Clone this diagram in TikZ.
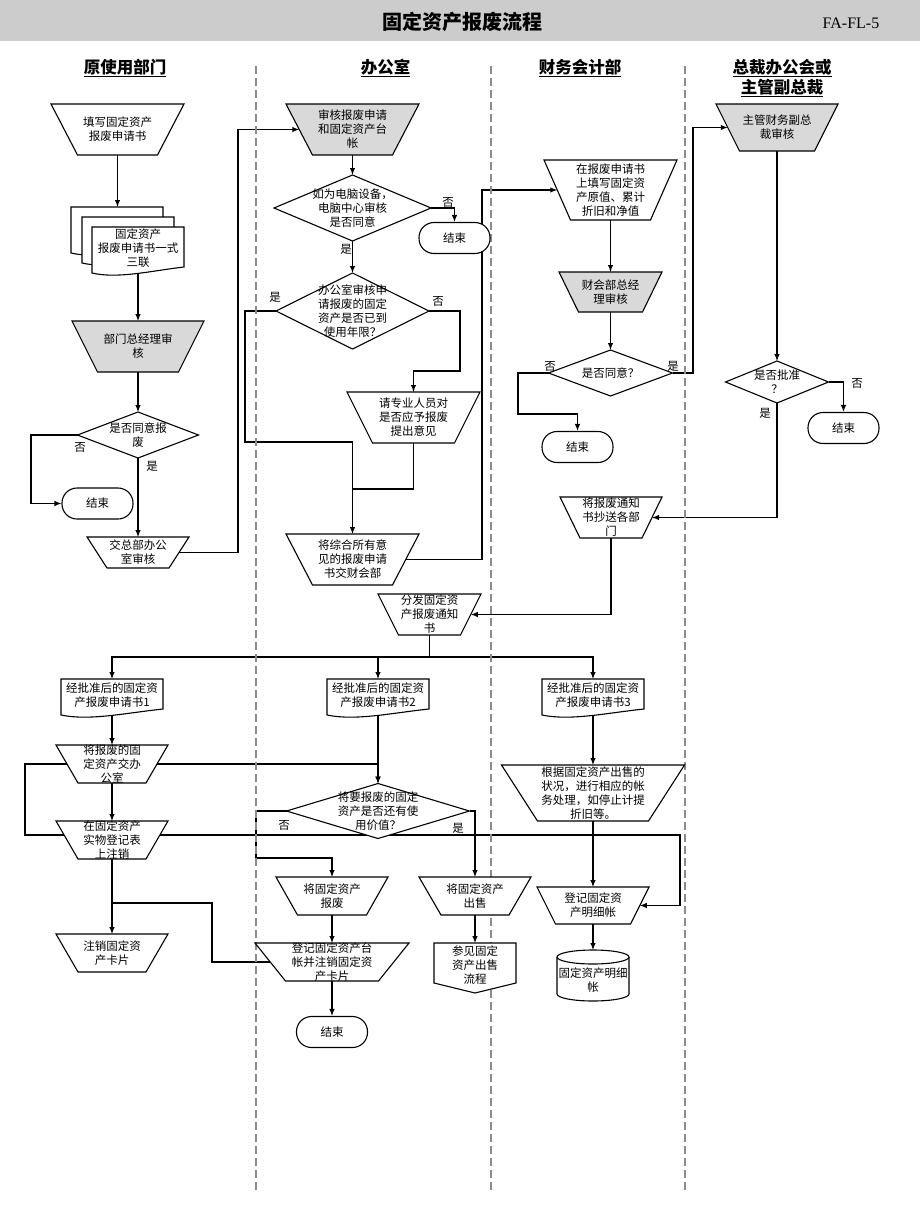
\documentclass[tikz,border=0pt]{standalone}
\usepackage{fontspec}
\setmainfont{Noto Sans CJK SC}
\newfontfamily\cjk{Noto Sans CJK SC}
\newfontfamily\codef{Liberation Serif}
\usetikzlibrary{arrows.meta,backgrounds}

\tikzset{
 shp/.style={draw=black, line width=1.1pt, fill=white},
 gshp/.style={draw=black, line width=1.1pt, fill=black!15},
 box/.style={rectangle, inner sep=0pt, outer sep=0pt, draw=none},
 txt/.style={inner sep=0pt, align=center, font=\cjk\fontsize{11.5}{14}\selectfont},
 endn/.style={draw, line width=1.1pt, fill=white, rounded corners=15pt, minimum width=71pt, minimum height=31pt, inner sep=0pt, font=\cjk\fontsize{11.5}{14}\selectfont},
 conn/.style={line width=1.1pt},
 arr/.style={conn, -{Latex[length=7pt,width=5.5pt]}},
 lbl/.style={inner sep=0pt, font=\cjk\fontsize{11.5}{14}\selectfont},
 lane/.style={draw=black!45, line width=1.2pt, dash pattern=on 8pt off 4pt},
 hdr/.style={inner sep=0pt, align=center, font=\cjk\bfseries\fontsize{16.5}{20}\selectfont},
}

% name, cx, top y, bottom y, top half width, bottom half width, style, text
\newcommand\mytrap[8]{%
  \path[#7] ({#2-#5},#3) -- ({#2+#5},#3) -- ({#2+#6},#4) -- ({#2-#6},#4) -- cycle;
  \node[box, minimum width={2*#5}, minimum height={#4-#3}] (#1) at (#2,{(#3+#4)/2}) {};
  \node[txt] (#1-t) at (#1.center) {#8};
  \coordinate (#1-r) at ({#2+(#5+#6)/2},{(#3+#4)/2});
  \coordinate (#1-l) at ({#2-(#5+#6)/2},{(#3+#4)/2});
}
% name, cx, cy, half width, half height, text
\newcommand\mydiam[6]{%
  \path[shp] ({#2-#4},#3) -- (#2,{#3-#5}) -- ({#2+#4},#3) -- (#2,{#3+#5}) -- cycle;
  \node[box, minimum width={2*#4}, minimum height={2*#5}] (#1) at (#2,#3) {};
  \node[txt] (#1-t) at (#1.center) {#6};
}
% name, left, top, right, height, text
\newcommand\mydoc[6]{%
  \path[shp] (#2,#3) -- (#4,#3) -- (#4,{#3+#5-6}) .. controls ({#4-0.37*(#4-#2)},{#3+#5-2}) and ({#2+0.28*(#4-#2)},{#3+#5+6}) .. (#2,{#3+#5}) -- cycle;
  \node[box, minimum width={#4-#2}, minimum height={#5}] (#1) at ({(#2+#4)/2},{#3+#5/2}) {};
  \node[txt] (#1-t) at ([yshift=1.5pt]#1.center) {#6};
}

\begin{document}
\begin{tikzpicture}[x=1pt,y=-1pt]
\useasboundingbox (0,0) rectangle (920,1227);

% header band
\fill[black!20] (0,0) rectangle (920,41);
\node[inner sep=0pt, font=\cjk\bfseries\fontsize{20}{24}\selectfont] (title) at (462,22) {固定资产报废流程};
\node[inner sep=0pt, font=\codef\fontsize{16}{18}\selectfont] (code) at (851,23) {FA-FL-5};

% lanes
\draw[lane] (256,66) -- (256,1193);
\draw[lane] (491,66) -- (491,1193);
\draw[lane] (685,66) -- (685,1193);

\node[hdr] (h1) at (125,68) {\underline{原使用部门}};
\node[hdr] (h2) at (385.5,68) {\underline{办公室}};
\node[hdr] (h3) at (580,68) {\underline{财务会计部}};
\node[hdr] (h4) at (782,78) {\underline{总裁办公会或}\\\underline{主管副总裁}};

% column 1
\mytrap{n1}{117.5}{104}{155}{66.5}{40}{shp}{填写固定资产\\报废申请书}
\mydoc{md1}{71}{207}{163}{46}{}
\mydoc{md2}{82}{217}{174}{46}{}
\mydoc{md3}{92}{227}{184}{46}{固定资产\\报废申请书一式\\三联}
\mytrap{n3}{138}{321}{372}{66}{40.5}{gshp}{部门总经理审\\核}
\mydiam{d1}{138}{435}{60.5}{23}{是否同意报\\废}
\node[endn] (e1) at (97.5,503.5) {结束};
\mytrap{n4}{138}{537}{568}{51}{31}{shp}{交总部办公\\室审核}

% column 2
\mytrap{n5}{352.5}{104}{155}{66.5}{40}{gshp}{审核报废申请\\和固定资产台\\帐}
\mydiam{d2}{352.5}{208}{78.5}{33}{如为电脑设备，\\电脑中心审核\\是否同意}
\node[endn] (e2) at (454.5,238) {结束};
\mydiam{d3}{352.5}{311}{76.5}{38}{办公室审核申\\请报废的固定\\资产是否已到\\使用年限？}
\mytrap{n6}{413.5}{392}{443}{66.5}{41}{shp}{请专业人员对\\是否应予报废\\提出意见}
\mytrap{n7}{352.5}{534}{585}{66.5}{40}{shp}{将综合所有意\\见的报废申请\\书交财会部}
\mytrap{n8}{429.5}{594}{635}{51.5}{31}{shp}{分发固定资\\产报废通知\\书}

% column 3
\mytrap{n9}{610.5}{160}{220}{66.5}{40}{shp}{在报废申请书\\上填写固定资\\产原值、累计\\折旧和净值}
\mytrap{n10}{610.5}{272}{312}{51.5}{32}{gshp}{财会部总经\\理审核}
\mydiam{d4}{610.5}{373}{62}{23}{是否同意？}
\node[endn] (e3) at (577.5,447) {结束};
\mytrap{n12}{611}{497}{538}{51}{31}{shp}{将报废通知\\书抄送各部\\门}

% column 4
\mytrap{n11}{777}{104}{151}{61}{37.5}{gshp}{主管财务副总\\裁审核}
\mydiam{d5}{777}{382}{51.5}{21}{是否批准\\？}
\node[endn] (e4) at (843.5,428) {结束};

% lower part
\mydoc{p1}{61}{679}{163}{36}{经批准后的固定资\\产报废申请书1}
\mydoc{p2}{327}{679}{429}{36}{经批准后的固定资\\产报废申请书2}
\mydoc{p3}{542}{679}{644}{36}{经批准后的固定资\\产报废申请书3}
\mytrap{n13}{112}{745}{783}{56}{34}{shp}{将报废的固\\定资产交办\\公室}
\mytrap{n14}{112}{821}{859}{56}{34}{shp}{在固定资产\\实物登记表\\上注销}
\mytrap{n15}{112}{934}{972}{56}{34}{shp}{注销固定资\\产卡片}
\mydiam{d6}{378}{811}{91.5}{27.5}{将要报废的固定\\资产是否还有使\\用价值？}
\mytrap{n16}{332}{877}{915}{56}{34.5}{shp}{将固定资产\\报废}
\mytrap{n19}{332}{943}{981}{77}{46.5}{shp}{登记固定资产台\\帐并注销固定资\\产卡片}
\node[endn] (e5) at (332,1032) {结束};
\mytrap{n17}{475}{877}{915}{56}{34}{shp}{将固定资产\\出售}
\path[shp] (434,943) -- (516,943) -- (516,983) -- (475,993) -- (434,983) -- cycle;
\node[box, minimum width=82pt, minimum height=50pt] (n18) at (475,968) {};
\node[txt] (n18-t) at (475,965) {参见固定\\资产出售\\流程};
\mytrap{n20}{593}{765}{821}{91.5}{55.5}{shp}{根据固定资产出售的\\状况，进行相应的帐\\务处理，如停止计提\\折旧等。}
\mytrap{n21}{593}{887}{924}{56}{37.5}{shp}{登记固定资\\产明细帐}
\path[shp] (557,957) -- (557,994) arc[start angle=180,end angle=360,x radius=36pt,y radius=7pt] -- (629,957) arc[start angle=0,end angle=180,x radius=36pt,y radius=7pt] -- cycle;
\draw[line width=1.1pt] (557,957) arc[start angle=180,end angle=360,x radius=36pt,y radius=7pt];
\node[box, minimum width=72pt, minimum height=51pt] (cy) at (593,975.5) {};
\node[txt] (cy-t) at (593,980) {固定资产明细\\帐};

% labels
\node[lbl] (l1) at (80,447) {否};
\node[lbl] (l2) at (152,466) {是};
\node[lbl] (l3) at (448,202) {否};
\node[lbl] (l4) at (346,249) {是};
\node[lbl] (l5) at (275,297) {是};
\node[lbl] (l6) at (438,301) {否};
\node[lbl] (l7) at (550,366) {否};
\node[lbl] (l8) at (673,366) {是};
\node[lbl] (l9) at (857,383) {否};
\node[lbl] (l10) at (765,413) {是};
\node[lbl] (l11) at (284,825) {否};
\node[lbl] (l12) at (458,828) {是};

% connectors
\begin{scope}[on background layer]
\draw[arr] (n1.south) -- (n1.south |- md1.north);
\draw[arr] (md3.south -| n3.north) -- (n3.north);
\draw[arr] (n3.south) -- (d1.north);
\draw[arr] (d1.west) -- (31,435) |- (e1.west);
\draw[arr] (d1.south) -- (n4.north);
\draw[arr] (n4-r) -- (238,552.5) -- (238,129.5) -- (n5-l);
\draw[arr] (n5.south) -- (d2.north);
\draw[arr] (d2.east) -| (e2.north);
\draw[arr] (d2.south) -- (d3.north);
\draw[arr] (d3.west) -- (245,311) -- (245,442) -| (n7.north);
\draw[arr] (d3.east) -- (460,311) -- (460,371) -| (n6.north);
\draw[conn] (n6.south) |- (352.5,489);
\draw[arr] (n7-r) -- (482,559.5) -- (482,190) -- (n9-l);
\draw[arr] (n9.south) -- (n10.north);
\draw[arr] (n10.south) -- (d4.north);
\draw[arr] (d4.west) -- (518,373) -- (518,414) -| (e3.north);
\draw[arr] (d4.east) -- (693,373) |- (n11-l);
\draw[arr] (n11.south) -- (d5.north);
\draw[arr] (d5.east) -| (e4.north);
\draw[arr] (d5.south) |- (n12-r);
\draw[arr] (n12.south) |- (n8-r);
\coordinate (bus) at (429.5,657);
\draw[conn] (n8.south) -- (bus);
\draw[arr] (bus) -| (p1.north);
\draw[arr] (bus) -| (p2.north);
\draw[arr] (bus) -| (p3.north);
\draw[arr] (p1.south) -- (n13.north);
\draw[arr] (n13.south) -- (n14.north);
\draw[arr] (n14.south) -- (n15.north);
\draw[arr] (p2.south) -- (d6.north);
\draw[arr] (n13-r) -| (d6.north);
\draw[arr] (n13-l) -- (25,764) -- (25,835) -- (680,835) |- (n21-r);
\coordinate (j1) at (112,903);
\draw[conn] (j1) -- (212,903) |- (n19-l);
\draw[arr] (d6.west) -- (256,811) -- (256,858) -| (n16.north);
\draw[arr] (d6.east) -| (n17.north);
\draw[arr] (n16.south) -- (n19.north);
\draw[arr] (n19.south) -- (e5.north);
\draw[arr] (n17.south) -- (n18.north);
\draw[arr] (p3.south) -- (n20.north);
\draw[arr] (n20.south) -- (n21.north);
\draw[arr] (n21.south) -- (cy.north);
\end{scope}
\end{tikzpicture}
\end{document}
